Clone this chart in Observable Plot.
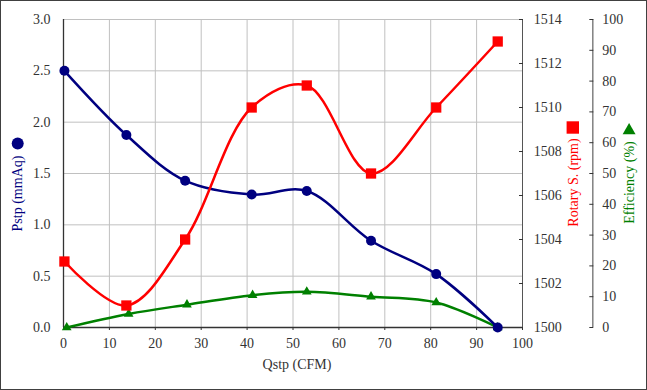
<!DOCTYPE html>
<html><head><meta charset="utf-8">
<script src="https://cdn.jsdelivr.net/npm/d3@7"></script>
<script src="https://cdn.jsdelivr.net/npm/@observablehq/plot@0.6"></script>
<style>
body{margin:0;background:#fff}
#chart svg{display:block;outline:1px solid #404040;outline-offset:-1px}
#chart svg, #chart svg text{font-family:"Liberation Serif","Times New Roman",serif !important}
</style>
</head><body><div id="chart"></div>
<script>
// ---- data ----
const qstp = [0.2, 13.7, 26.5, 41, 53, 67, 81.2, 94.6];
const pstp = [2.5, 1.875, 1.43, 1.295, 1.33, 0.845, 0.52, 0];
const rotary = [1503, 1501, 1504, 1510, 1511, 1507, 1510, 1513];
const qEff = [0.7, 14.2, 26.9, 41.2, 53, 67, 81.2, 94.6];
const efficiency = [0, 4.4, 7.4, 10.5, 11.6, 10.0, 8.1, 0];

const xTicks = [0, 10, 20, 30, 40, 50, 60, 70, 80, 90, 100];
const pTicks = [0, 0.5, 1, 1.5, 2, 2.5, 3];
const rotTicks = [1500, 1502, 1504, 1506, 1508, 1510, 1512, 1514];
const effTicks = [0, 10, 20, 30, 40, 50, 60, 70, 80, 90, 100];

const xTitle = "Qstp (CFM)";
const pTitle = "Pstp (mmAq)";
const rTitle = "Rotary S. (rpm)";
const eTitle = "Efficiency (%)";

// map secondary axes onto primary y scale (0..3)
const rotMin = 1500, rotMax = 1514, effMax = 100, pMax = 3;
const ry = v => (v - rotMin) / (rotMax - rotMin) * pMax;
const ey = v => v / effMax * pMax;

const pData = qstp.map((q, i) => ({q, v: pstp[i]}));
const rData = qstp.map((q, i) => ({q, v: ry(rotary[i])}));
const eData = qEff.map((q, i) => ({q, v: ey(efficiency[i])}));

const NAVY = "#000080", RED = "#ff0000", GREEN = "#008000", GRID = "#c0c0c0", INK = "#333333";
const FONT = "Liberation Serif, Times New Roman, serif";

const plot = Plot.plot({
  width: 647, height: 390,
  marginLeft: 63, marginRight: 125, marginTop: 19, marginBottom: 63,
  x: {domain: [0, 100]},
  y: {domain: [0, pMax]},
  style: {fontSize: "14px", color: INK, background: "#fff", fontFamily: FONT},
  marks: [
    Plot.gridX(xTicks, {stroke: GRID, strokeOpacity: 1}),
    Plot.gridY(pTicks, {stroke: GRID, strokeOpacity: 1}),
    Plot.ruleX([0], {stroke: INK, strokeWidth: 1.3}),
    Plot.ruleY([0], {stroke: INK, strokeWidth: 1.3}),
    Plot.ruleX([100], {stroke: "#555"}),
    Plot.axisX(xTicks, {label: null, tickSize: 3, tickPadding: 8, tickFormat: d => String(d), fill: INK, stroke: INK, fontFamily: FONT}),
    Plot.axisY(pTicks, {anchor: "left", label: null, tickSize: 0, tickPadding: 13, tickFormat: d3.format(".1f"), fill: INK, fontFamily: FONT}),
    Plot.axisY(rotTicks.map(ry), {anchor: "right", label: null, tickSize: -4, tickPadding: 15.3,
      tickFormat: d => String(Math.round(rotMin + d / pMax * (rotMax - rotMin))), fill: INK, stroke: INK, fontFamily: FONT}),
    Plot.ruleX([100], {dx: 70.3, stroke: "#808080", strokeWidth: 1.5}),
    Plot.axisY(effTicks.map(ey), {anchor: "right", label: null, dx: 70.3, tickSize: -4, tickPadding: 13.4,
      tickFormat: d => String(Math.round(d / pMax * effMax)), fill: INK, stroke: INK, fontFamily: FONT}),

    Plot.line(eData, {x: "q", y: "v", stroke: GREEN, strokeWidth: 2.5, curve: "catmull-rom"}),
    Plot.line(pData, {x: "q", y: "v", stroke: NAVY, strokeWidth: 2.5, curve: "catmull-rom"}),
    Plot.line(rData, {x: "q", y: "v", stroke: RED, strokeWidth: 2.5, curve: "catmull-rom"}),
    Plot.dot(eData, {x: "q", y: "v", symbol: "triangle", r: 3.6, fill: GREEN}),
    Plot.dot(pData, {x: "q", y: "v", symbol: "circle", r: 5, fill: NAVY}),
    Plot.dot(rData, {x: "q", y: "v", symbol: "square", r: 5.8, fill: RED}),

    Plot.text([xTitle], {frameAnchor: "bottom", textAnchor: "middle", dx: 4, dy: 41.3, fill: INK, fontSize: 14, fontFamily: FONT}),
    Plot.text([pTitle], {frameAnchor: "left", textAnchor: "middle", rotate: -90, dx: -45.8, dy: 20, fill: NAVY, fontSize: 14, fontFamily: FONT}),
    Plot.dot([pTitle], {frameAnchor: "left", dx: -45.8, dy: -30, r: 6, symbol: "circle", fill: NAVY}),
    Plot.text([rTitle], {frameAnchor: "right", textAnchor: "middle", rotate: -90, dx: 51, dy: 9, fill: RED, fontSize: 14, fontFamily: FONT}),
    Plot.dot([rTitle], {frameAnchor: "right", dx: 50.3, dy: -46, r: 7, symbol: "square", fill: RED}),
    Plot.text([eTitle], {frameAnchor: "right", textAnchor: "middle", rotate: -90, dx: 106.6, dy: 9, fill: GREEN, fontSize: 14, fontFamily: FONT}),
    Plot.dot([eTitle], {frameAnchor: "right", dx: 106.6, dy: -43, r: 4.8, symbol: "triangle", fill: GREEN})
  ]
});
document.getElementById("chart").append(plot);
</script>
</body></html>
